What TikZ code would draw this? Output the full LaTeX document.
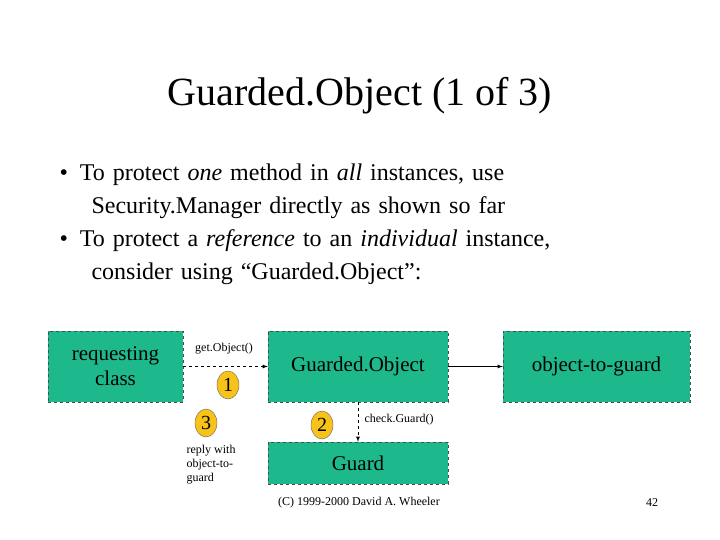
\documentclass[tikz,border=0pt]{standalone}
\usepackage{fontspec}
\setmainfont{Liberation Serif}
\usetikzlibrary{shapes.geometric}
\begin{document}
\begin{tikzpicture}[x=1pt,y=-1pt,
  box/.style={draw=black!70,dashed,fill=boxc,inner sep=0pt},
  num/.style={ellipse,draw=black!60,fill=numc,minimum width=22pt,minimum height=28pt,inner sep=0pt,font=\fontsize{20}{20}\selectfont},
  small/.style={font=\fontsize{12}{13}\selectfont,align=left},
  arr/.style={-latex,thick}]
\definecolor{boxc}{HTML}{1DB98C}
\definecolor{numc}{HTML}{F7C21A}
\useasboundingbox (0,0) rectangle (720,540);
\fill[white] (0,0) rectangle (720,540);
\node[font=\fontsize{40}{44}\selectfont] (title) at (360,96) {Guarded.Object (1 of 3)};
\node[anchor=north west,font=\fontsize{24}{33}\selectfont,align=left,text width=600pt] (bul) at (56,160)
 {\textbullet\hspace{12pt}To protect \textit{one} method in \textit{all} instances, use\\
 \hspace*{32pt}Security.Manager directly as shown so far\\
 \textbullet\hspace{12pt}To protect a \textit{reference} to an \textit{individual} instance,\\
 \hspace*{32pt}consider using ``Guarded.Object'':};
\node[box,minimum width=135pt,minimum height=71pt,font=\fontsize{21}{25}\selectfont,align=center] (req) at (115.5,366.5) {requesting\\class};
\node[box,minimum width=180pt,minimum height=71pt,font=\fontsize{21}{25}\selectfont] (go) at (358,366.5) {Guarded.Object};
\node[box,minimum width=187pt,minimum height=71pt,font=\fontsize{21}{25}\selectfont] (otg) at (596.5,366.5) {object-to-guard};
\node[box,minimum width=180pt,minimum height=42pt,font=\fontsize{21}{25}\selectfont] (guard) at (358,463) {Guard};
\draw[arr,dashed] (req.east) -- (go.west);
\draw[arr] (go.east) -- (otg.west);
\draw[arr,dashed] (go.south) -- (guard.north);
\node[small] (get) at (224,349) {get.Object()};
\node[small,anchor=west] (chk) at (361,420) {check.Guard()};
\node[num] (n1) at (228,385) {1};
\node[num] (n3) at (206,423) {3};
\node[num] (n2) at (322,425) {2};
\node[small,anchor=north west,font=\fontsize{12}{14}\selectfont] (reply) at (183,442) {reply with\\object-to-\\guard};
\node[font=\fontsize{12}{14}\selectfont] (copy) at (359,503) {(C) 1999-2000 David A. Wheeler};
\node[font=\fontsize{12}{14}\selectfont] (pg) at (652,503) {42};
\end{tikzpicture}
\end{document}
